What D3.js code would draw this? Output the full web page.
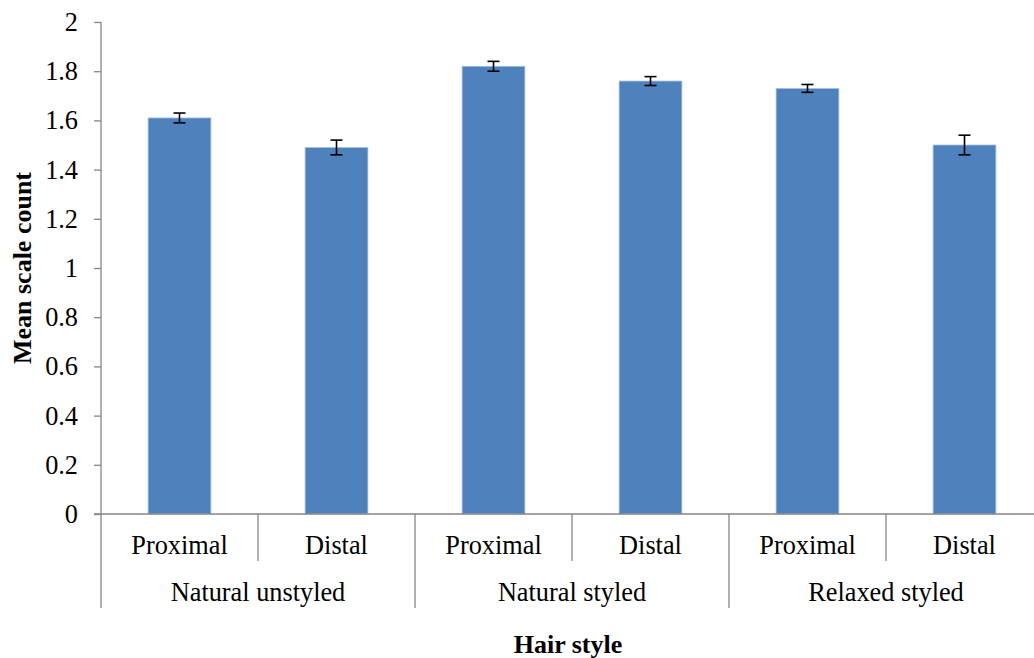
<!DOCTYPE html>
<html><head><meta charset="utf-8">
<script src="https://cdn.jsdelivr.net/npm/d3@7"></script>
<style>body{margin:0;background:#fff;}svg{display:block;} svg text{font-family:"Liberation Serif","Times New Roman",serif;}</style>
</head><body>
<svg id="c" width="1034" height="658"></svg>
<script>
const groups = ["Natural unstyled", "Natural styled", "Relaxed styled"];
const positions = ["Proximal", "Distal"];
const means = [1.61, 1.49, 1.82, 1.76, 1.73, 1.50];
const errors = [0.02, 0.03, 0.02, 0.018, 0.016, 0.04];
const yTicks = [0, 0.2, 0.4, 0.6, 0.8, 1, 1.2, 1.4, 1.6, 1.8, 2];

(function () {
const data = [];
groups.forEach((g, gi) => positions.forEach((p, pi) => {
  const i = gi * positions.length + pi;
  data.push({key: i, group: g, pos: p, mean: means[i], err: errors[i]});
}));

const svg = d3.select("#c");
const pLeft = 101, pRight = 1043, pTop = 22, pBottom = 514;
const font = "Liberation Serif, Times New Roman, serif";
const axisColor = "#868686";
const fs = "26.3px";

const x = d3.scaleBand().domain(data.map(d => d.key)).range([pLeft, pRight]).paddingInner(0.6).paddingOuter(0.3);
const y = d3.scaleLinear().domain([0, 2]).range([pBottom, pTop]);
const step = x.step();

// bars
svg.append("g").selectAll("rect").data(data).join("rect")
  .attr("x", d => x(d.key)).attr("y", d => y(d.mean))
  .attr("width", x.bandwidth()).attr("height", d => y(0) - y(d.mean))
  .attr("fill", "#4F81BD").attr("stroke", "#a9c1e0").attr("stroke-width", 0.8);

// error bars
const eb = svg.append("g").attr("stroke", "#000").attr("stroke-width", 1.6);
data.forEach(d => {
  const cx = x(d.key) + x.bandwidth() / 2;
  eb.append("line").attr("x1", cx).attr("x2", cx).attr("y1", y(d.mean + d.err)).attr("y2", y(d.mean - d.err));
  eb.append("line").attr("x1", cx - 6).attr("x2", cx + 6).attr("y1", y(d.mean + d.err)).attr("y2", y(d.mean + d.err));
  eb.append("line").attr("x1", cx - 6).attr("x2", cx + 6).attr("y1", y(d.mean - d.err)).attr("y2", y(d.mean - d.err));
});

// y axis
const yAxis = svg.append("g").attr("transform", `translate(${pLeft},0)`)
  .call(d3.axisLeft(y).tickValues(yTicks).tickSize(7).tickPadding(16).tickFormat(d => d3.format("")(d)));
yAxis.attr("font-family", null).attr("font-size", null);
yAxis.select(".domain").remove();
yAxis.selectAll(".tick line").attr("stroke", axisColor).attr("stroke-width", 1.3);
yAxis.selectAll(".tick text").style("font-family", font).style("font-size", fs).attr("fill", "#000");
svg.append("line").attr("x1", pLeft).attr("x2", pLeft).attr("y1", pTop).attr("y2", 608)
  .attr("stroke", axisColor).attr("stroke-width", 1.3);

// x axis line
svg.append("line").attr("x1", pLeft - 7).attr("x2", 1034).attr("y1", pBottom).attr("y2", pBottom)
  .attr("stroke", axisColor).attr("stroke-width", 1.3);

// category separators
const sep = svg.append("g").attr("stroke", axisColor).attr("stroke-width", 1.3);
data.forEach((d, i) => {
  if (i === 0) return;
  const xs = x(d.key) - step * x.paddingInner() / 2;
  const isGroup = i % positions.length === 0;
  sep.append("line").attr("x1", xs).attr("x2", xs).attr("y1", pBottom).attr("y2", isGroup ? 608 : 561);
});

// category labels
svg.append("g").selectAll("text").data(data).join("text")
  .attr("x", d => x(d.key) + x.bandwidth() / 2).attr("y", 554)
  .attr("text-anchor", "middle").style("font-family", font).style("font-size", fs)
  .text(d => d.pos);

svg.append("g").selectAll("text").data(groups).join("text")
  .attr("x", (g, gi) => x(gi * positions.length) - step * x.paddingOuter() + step * positions.length / 2)
  .attr("y", 601).attr("text-anchor", "middle").style("font-family", font).style("font-size", fs)
  .text(g => g);

// axis titles
svg.append("text").attr("x", 568).attr("y", 653).attr("text-anchor", "middle")
  .style("font-family", font).style("font-size", "26px").style("font-weight", "bold").text("Hair style");
svg.append("text").attr("transform", "translate(31,268) rotate(-90)").attr("text-anchor", "middle")
  .style("font-family", font).style("font-size", "26px").style("font-weight", "bold").text("Mean scale count");
})();
</script>
</body></html>
